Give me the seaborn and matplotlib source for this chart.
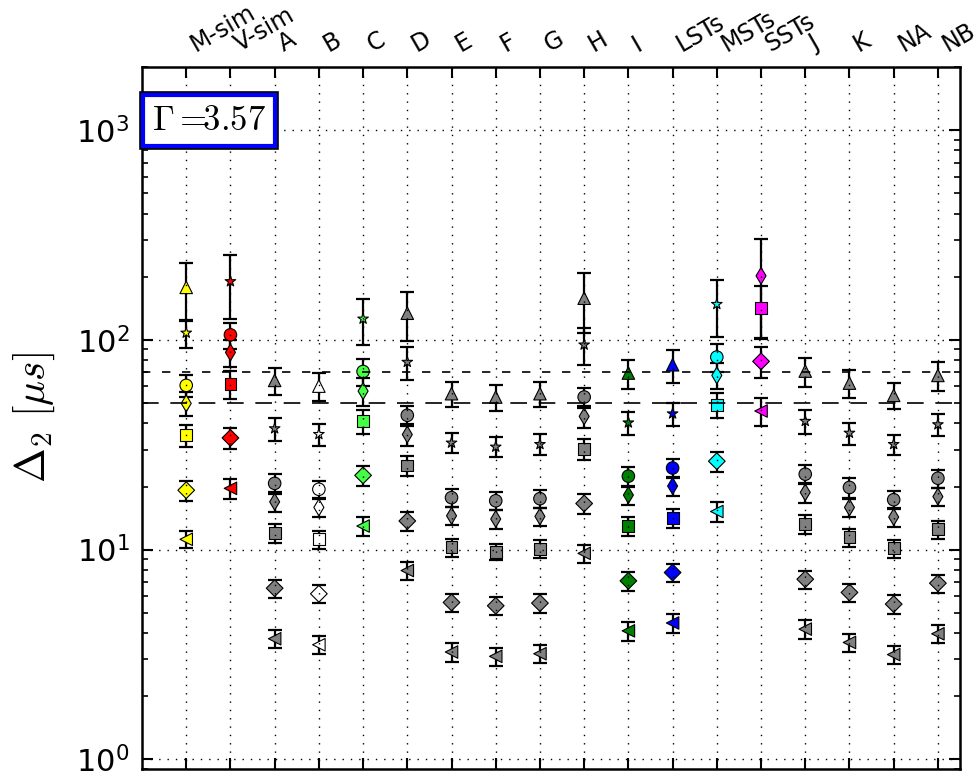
import numpy as np
import pandas as pd
import matplotlib
matplotlib.use("Agg")
import matplotlib.pyplot as plt
import matplotlib.patheffects as pe
import seaborn as sns

nan = np.nan

cats = ["M-sim", "V-sim", "A", "B", "C", "D", "E", "F", "G", "H", "I",
        "LSTs", "MSTs", "SSTs", "J", "K", "NA", "NB"]
colors = ["yellow", "red", "grey", "white", "#44ff44", "grey", "grey", "grey",
          "grey", "grey", "green", "blue", "cyan", "magenta", "grey", "grey",
          "grey", "grey"]

# values (microseconds) per marker kind, one entry per category
tri_up = [178, nan, 64.1, 60.2, nan, 134, 55.4, 53.4, 55.4, 158, 69.5, 76.1,
          nan, nan, 71.0, 62.2, 54.4, 67.7]
star = [108, 190, 37.8, 35.5, 126, 78.4, 32.3, 30.9, 31.8, 94.8, 40.3, 44.5,
        148, nan, 41.0, 36.0, 31.8, 39.5]
circle = [60.7, 105.7, 20.7, 19.4, 70.7, 43.7, 17.7, 17.1, 17.5, 53.4, 22.4,
          24.5, 82.8, nan, 22.9, 19.8, 17.3, 21.9]
thin_diamond = [49.8, 87.2, 16.9, 15.9, 57.0, 35.4, 14.5, 14.0, 14.4, 43.2,
                18.2, 20.1, 67.7, 202, 18.75, 15.9, 14.3, 17.9]
square = [35.2, 61.8, 12.0, 11.2, 40.9, 25.2, 10.26, 9.78, 10.1, 30.3, 12.96,
          14.1, 49.1, 141.5, 13.2, 11.45, 10.15, 12.5]
diamond = [19.2, 34.1, 6.55, 6.16, 22.6, 13.7, 5.6, 5.4, 5.56, 16.6, 7.1,
           7.78, 26.4, 79.0, 7.23, 6.25, 5.5, 6.92]
tri_left = [11.2, 19.6, 3.76, 3.52, 12.96, 7.95, 3.25, 3.1, 3.19, 9.6, 4.1,
            4.47, 15.2, 45.8, 4.18, 3.61, 3.16, 3.97]

# relative errors
tri_up_err = [0.31, nan, 0.15, 0.15, nan, 0.26, 0.14, 0.14, 0.14, 0.32, 0.16,
              0.18, nan, nan, 0.16, 0.15, 0.14, 0.16]
star_err = [0.15, 0.34, 0.127, 0.12, 0.25, 0.175, 0.11, 0.11, 0.115, 0.2,
            0.13, 0.125, 0.3, nan, 0.13, 0.12, 0.11, 0.12]
circle_err = [0.12, 0.14, 0.106, 0.095, 0.15, 0.11, 0.1, 0.1, 0.1, 0.11, 0.11,
              0.1, 0.15, nan, 0.105, 0.105, 0.1, 0.1]
thin_diamond_err = [0.13, 0.15, 0.11, 0.1, 0.15, 0.12, 0.1, 0.1, 0.1, 0.12,
                    0.1, 0.1, 0.14, 0.5, 0.11, 0.1, 0.1, 0.1]
square_err = [0.12, 0.15, 0.104, 0.1, 0.13, 0.11, 0.1, 0.09, 0.1, 0.115,
              0.105, 0.105, 0.14, 0.28, 0.105, 0.1, 0.1, 0.1]
diamond_err = [0.107, 0.117, 0.1, 0.1, 0.11, 0.1, 0.1, 0.1, 0.1, 0.105, 0.105,
               0.1, 0.11, 0.17, 0.1, 0.1, 0.1, 0.1]
tri_left_err = [0.094, 0.107, 0.1, 0.1, 0.1, 0.1, 0.1, 0.1, 0.1, 0.1, 0.105,
                0.1, 0.11, 0.15, 0.1, 0.1, 0.1, 0.1]

series = {
    "^": (tri_up, tri_up_err),
    "*": (star, star_err),
    "o": (circle, circle_err),
    "d": (thin_diamond, thin_diamond_err),
    "s": (square, square_err),
    "D": (diamond, diamond_err),
    "<": (tri_left, tri_left_err),
}
marker_size = {"^": 9, "*": 8, "o": 9, "d": 8.5, "s": 8.5, "D": 8.5, "<": 9}

rows = []
for kind, (vals, errs) in series.items():
    for i, (v, e) in enumerate(zip(vals, errs)):
        if not np.isnan(v):
            rows.append(dict(pos=i, val=v, err=v * e, kind=kind, cat=cats[i]))
df = pd.DataFrame(rows)

sns.set_style("ticks")
plt.rcParams.update({
    "mathtext.fontset": "cm",
    "text.color": "black",
    "axes.labelcolor": "black",
    "xtick.color": "black",
    "ytick.color": "black",
    "axes.edgecolor": "black",
})

fig = plt.figure(figsize=(9.79, 7.79), dpi=100)
ax = fig.add_axes([0.14505, 0.01284, 0.83555, 0.90116])
ax.set_yscale("log")

ax.errorbar(df["pos"], df["val"], yerr=df["err"], fmt="none", ecolor="black",
            elinewidth=1.6, capsize=5, capthick=1.6, zorder=2.1)
sns.scatterplot(data=df, x="pos", y="val", hue="cat",
                palette=dict(zip(cats, colors)), style="kind",
                markers={k: k for k in series}, size="kind",
                sizes={k: s ** 2 for k, s in marker_size.items()},
                edgecolor="black", linewidth=0.8, legend=False, ax=ax,
                zorder=2.2)

ax.axhline(70, color="black", ls=(0, (5, 7)), lw=1.2, zorder=2.4)
ax.axhline(50, color="black", ls=(0, (10, 7)), lw=1.2, zorder=2.4)

ax.set_xlim(-1, 17.5)
ax.set_ylim(0.9, 2000)
ax.set_axisbelow(False)
ax.grid(True, which="major", color="black", ls=(0, (1, 5)), lw=1)
ax.grid(False, which="minor")

ax.set_xticks(range(len(cats)))
ax.set_xticklabels(cats, rotation=30, ha="left", fontsize=17)
ax.tick_params(axis="x", top=True, bottom=True, labeltop=True,
               labelbottom=False, direction="in", length=8, width=1.5, pad=8)
ax.tick_params(axis="y", which="major", left=True, right=True,
               direction="in", length=8, width=1.5, labelsize=22, pad=9)
ax.tick_params(axis="y", which="minor", left=True, right=True,
               direction="in", length=4, width=1.2)
for sp in ax.spines.values():
    sp.set_linewidth(1.8)
    sp.set_color("black")

ax.set_xlabel("")
ax.set_ylabel(r"$\Delta_2\ [\mu s]$", fontsize=30, labelpad=14)

t = ax.text(0.082, 0.9238, r"$\Gamma=\!\!3.57$", transform=ax.transAxes,
            ha="center", va="center", fontsize=25,
            bbox=dict(boxstyle="square,pad=0.25", facecolor="white",
                      edgecolor="blue", linewidth=3), zorder=5)
t.get_bbox_patch().set_path_effects(
    [pe.Stroke(linewidth=5.5, foreground="black"), pe.Normal()])

fig.savefig("out.png", dpi=100)
